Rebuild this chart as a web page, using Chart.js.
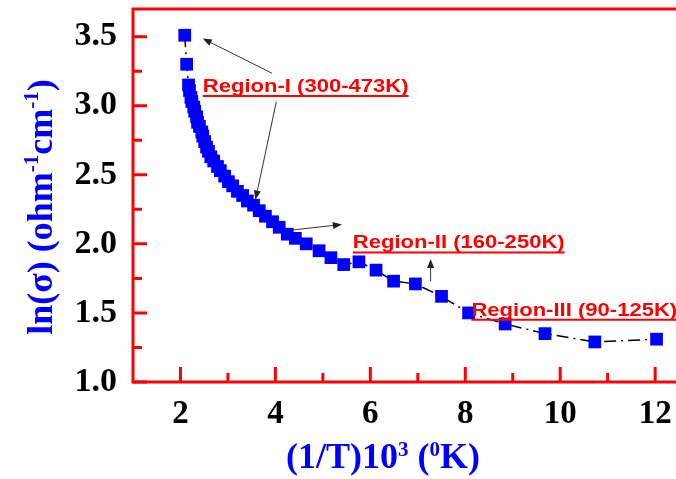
<!DOCTYPE html>
<html>
<head>
<meta charset="utf-8">
<script src="https://cdn.jsdelivr.net/npm/chart.js@4.4.0/dist/chart.umd.min.js"></script>
<style>
  html, body { margin: 0; padding: 0; background: #fff; overflow: hidden; }
  canvas { display: block; }
</style>
</head>
<body>
<canvas id="chart" width="676" height="479"></canvas>
<script>
(function () {
  'use strict';

  // --- Data ---

  var invT = [2.09, 2.13, 2.17, 2.19, 2.22, 2.24, 2.28, 2.30, 2.34, 2.36, 2.40, 2.45, 2.47, 2.51,
    2.55, 2.59, 2.64, 2.70, 2.78, 2.84, 2.93, 3.01, 3.10, 3.20, 3.31, 3.41, 3.54, 3.66, 3.79,
    3.94, 4.08, 4.25, 4.42, 4.65, 4.92, 5.17, 5.44, 5.76, 6.12, 6.49, 6.95, 7.50, 8.07, 8.84,
    9.68, 10.73, 12.03];
  var lnSigma = [3.51, 3.30, 3.15, 3.11, 3.06, 3.03, 2.99, 2.96, 2.92, 2.88, 2.85, 2.81, 2.78, 2.74,
    2.70, 2.67, 2.63, 2.60, 2.56, 2.53, 2.49, 2.45, 2.42, 2.38, 2.35, 2.31, 2.28, 2.24, 2.20,
    2.16, 2.12, 2.07, 2.04, 2.00, 1.95, 1.90, 1.85, 1.87, 1.81, 1.73, 1.71, 1.62, 1.50, 1.42,
    1.35, 1.29, 1.31];

  var xTicks = [2, 4, 6, 8, 10, 12];
  var xMinorTicks = [3, 5, 7, 9, 11];
  var yTicks = [1.0, 1.5, 2.0, 2.5, 3.0, 3.5];
  var yMinorTicks = [1.25, 1.75, 2.25, 2.75, 3.25];

  var regionLabels = ['Region-I (300-473K)', 'Region-II (160-250K)', 'Region-III (90-125K)'];
  var labelX = [2.47, 5.63, 8.13];
  var labelY = [3.10, 1.967, 1.48];

  // arrows: [fromX, fromY, toX, toY] in data units
  var arrows = [
    [3.93, 3.235, 2.47, 3.486],
    [4.02, 3.03, 3.58, 2.32],
    [4.35, 2.10, 5.40, 2.14],
    [7.27, 1.73, 7.27, 1.89]
  ];

  var RED = '#ff0000';
  var BLUE = '#0000ff';
  var SERIF = "'Liberation Serif', 'Times New Roman', serif";
  var SANS = "'Liberation Sans', Arial, sans-serif";

  var points = invT.map(function (x, i) { return { x: x, y: lnSigma[i] }; });

  // --- Plugins ---

  // red frame with inward ticks (right edge is cut off in the original)
  var framePlugin = {
    id: 'frame',
    afterDatasetsDraw: function (chart) {
      var ctx = chart.ctx, a = chart.chartArea;
      var xs = chart.scales.x, ys = chart.scales.y;
      ctx.save();
      ctx.strokeStyle = RED;
      ctx.lineWidth = 3;
      ctx.lineCap = 'square';
      ctx.beginPath();
      ctx.moveTo(chart.width, a.top);
      ctx.lineTo(a.left, a.top);
      ctx.lineTo(a.left, a.bottom);
      ctx.lineTo(chart.width, a.bottom);
      ctx.stroke();
      ctx.lineCap = 'butt';
      ctx.beginPath();
      xTicks.forEach(function (v) {
        var px = xs.getPixelForValue(v);
        ctx.moveTo(px, a.bottom); ctx.lineTo(px, a.bottom - 15);
      });
      xMinorTicks.forEach(function (v) {
        var px = xs.getPixelForValue(v);
        ctx.moveTo(px, a.bottom); ctx.lineTo(px, a.bottom - 9);
      });
      yTicks.forEach(function (v) {
        var py = ys.getPixelForValue(v);
        ctx.moveTo(a.left, py); ctx.lineTo(a.left + 14, py);
      });
      yMinorTicks.forEach(function (v) {
        var py = ys.getPixelForValue(v);
        ctx.moveTo(a.left, py); ctx.lineTo(a.left + 9, py);
      });
      ctx.stroke();
      ctx.restore();
    }
  };

  function drawArrow(ctx, x1, y1, x2, y2) {
    var ang = Math.atan2(y2 - y1, x2 - x1);
    var len = 9, half = 3.5;
    ctx.beginPath();
    ctx.moveTo(x1, y1);
    ctx.lineTo(x2 - Math.cos(ang) * len * 0.8, y2 - Math.sin(ang) * len * 0.8);
    ctx.stroke();
    ctx.beginPath();
    ctx.moveTo(x2, y2);
    ctx.lineTo(x2 - Math.cos(ang) * len - Math.sin(ang) * half, y2 - Math.sin(ang) * len + Math.cos(ang) * half);
    ctx.lineTo(x2 - Math.cos(ang) * len + Math.sin(ang) * half, y2 - Math.sin(ang) * len - Math.cos(ang) * half);
    ctx.closePath();
    ctx.fill();
  }

  var annotationPlugin = {
    id: 'regions',
    afterDatasetsDraw: function (chart) {
      var ctx = chart.ctx;
      var xs = chart.scales.x, ys = chart.scales.y;
      ctx.save();
      ctx.strokeStyle = '#333';
      ctx.fillStyle = '#222';
      ctx.lineWidth = 1;
      arrows.forEach(function (ar) {
        drawArrow(ctx, xs.getPixelForValue(ar[0]), ys.getPixelForValue(ar[1]),
          xs.getPixelForValue(ar[2]), ys.getPixelForValue(ar[3]));
      });

      ctx.font = 'bold 19px ' + SANS;
      ctx.fillStyle = RED;
      ctx.strokeStyle = RED;
      ctx.textBaseline = 'alphabetic';
      ctx.textAlign = 'left';
      regionLabels.forEach(function (txt, i) {
        var px = xs.getPixelForValue(labelX[i]);
        var py = ys.getPixelForValue(labelY[i]);
        var sx = 1.16;
        var w = ctx.measureText(txt).width * sx;
        ctx.save();
        ctx.translate(px, py);
        ctx.scale(sx, 1);
        ctx.fillText(txt, 0, 0);
        ctx.restore();
        ctx.lineWidth = 2;
        ctx.beginPath();
        ctx.moveTo(px, py + 4);
        ctx.lineTo(px + w, py + 4);
        ctx.stroke();
      });
      ctx.restore();
    }
  };

  // axis titles with superscripts: list of [text, isSuper]
  function drawRich(ctx, parts, size, supSize, rise) {
    var total = 0;
    parts.forEach(function (p) {
      ctx.font = 'bold ' + (p[1] ? supSize : size) + 'px ' + SERIF;
      total += ctx.measureText(p[0]).width;
    });
    var x = -total / 2;
    parts.forEach(function (p) {
      ctx.font = 'bold ' + (p[1] ? supSize : size) + 'px ' + SERIF;
      ctx.fillText(p[0], x, p[1] ? -rise : 0);
      x += ctx.measureText(p[0]).width;
    });
  }

  var titlePlugin = {
    id: 'titles',
    afterDraw: function (chart) {
      var ctx = chart.ctx;
      ctx.save();
      ctx.fillStyle = BLUE;
      ctx.textAlign = 'left';
      ctx.textBaseline = 'alphabetic';

      ctx.save();
      ctx.translate(383, 468);
      drawRich(ctx, [['(1/T)10', false], ['3', true], [' (', false], ['0', true], ['K)', false]], 36, 21, 12);
      ctx.restore();

      ctx.save();
      ctx.translate(52, 207);
      ctx.rotate(-Math.PI / 2);
      drawRich(ctx, [['ln(\u03c3) (ohm', false], ['-1', true], ['cm', false], ['-1', true], [')', false]], 36, 21, 14);
      ctx.restore();

      ctx.restore();
    }
  };

  function noPadding(s) {
    s.paddingTop = 0;
    s.paddingBottom = 0;
    s.paddingLeft = 0;
    s.paddingRight = 0;
  }

  // --- Chart ---

  var ctx = document.getElementById('chart').getContext('2d');
  new Chart(ctx, {
    type: 'scatter',
    data: {
      datasets: [{
        data: points,
        showLine: true,
        borderColor: '#000',
        borderWidth: 1.5,
        borderDash: [12, 5, 2, 5],
        pointStyle: 'rect',
        pointRadius: 9,
        pointBackgroundColor: BLUE,
        pointBorderWidth: 0
      }]
    },
    options: {
      responsive: false,
      animation: false,
      layout: { padding: { top: 5, right: 0, left: 0, bottom: 0 } },
      plugins: { legend: { display: false }, tooltip: { enabled: false } },
      scales: {
        x: {
          type: 'linear',
          min: 1,
          max: 12.25,
          grid: { display: false, drawTicks: false },
          border: { display: false },
          afterBuildTicks: function (s) { s.ticks = xTicks.map(function (v) { return { value: v }; }); },
          afterFit: function (s) { s.height = 97; noPadding(s); },
          ticks: {
            color: '#000',
            padding: 13,
            maxRotation: 0,
            font: { family: SERIF, size: 33, weight: 'bold' },
            callback: function (v) { return String(v); }
          }
        },
        y: {
          type: 'linear',
          min: 1.0,
          max: 3.7,
          grid: { display: false, drawTicks: false },
          border: { display: false },
          afterBuildTicks: function (s) { s.ticks = yTicks.map(function (v) { return { value: v }; }); },
          afterFit: function (s) { s.width = 133; noPadding(s); },
          ticks: {
            color: '#000',
            padding: 16,
            font: { family: SERIF, size: 34, weight: 'bold' },
            callback: function (v) { return v.toFixed(1); }
          }
        }
      }
    },
    plugins: [framePlugin, annotationPlugin, titlePlugin]
  });
})();
</script>
</body>
</html>
